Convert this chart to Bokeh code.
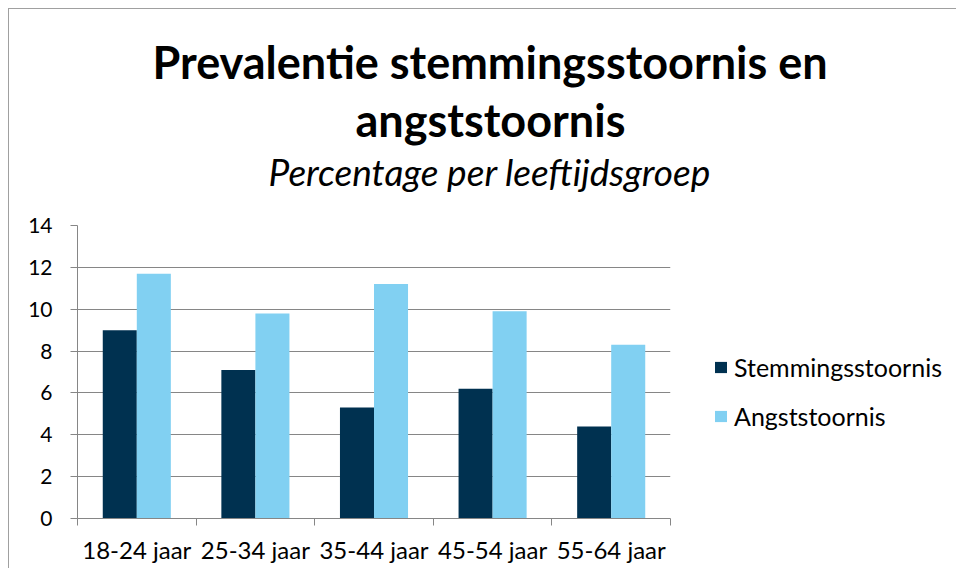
import numpy as np
from bokeh.plotting import figure
from bokeh.models import (ColumnDataSource, Range1d, FixedTicker, Legend,
                          LegendItem, Title)
from bokeh.transform import dodge
from bokeh.embed import file_html
from bokeh.resources import INLINE

# ---- data ----
groups = ["18-24 jaar", "25-34 jaar", "35-44 jaar", "45-54 jaar", "55-64 jaar"]
stemming = [9.0, 7.1, 5.3, 6.2, 4.4]
angst = [11.7, 9.8, 11.2, 9.9, 8.3]
series_names = ["Stemmingsstoornis", "Angststoornis"]
y_ticks = [0, 2, 4, 6, 8, 10, 12, 14]
title_lines = ["Prevalentie stemmingsstoornis en", "angststoornis"]
subtitle = "Percentage per leeftijdsgroep"

# ---- style ----
DARK = "#003150"
LIGHT = "#81d0f2"
GRID = "#868686"
FONT = "Lato"
BAR_W = 0.287

centers = np.arange(len(groups)) + 0.5
src = ColumnDataSource(dict(x=centers, stemming=stemming, angst=angst))

p = figure(frame_width=593, frame_height=293,
           min_border_left=68, min_border_top=216, min_border_bottom=50,
           min_border_right=278,
           x_range=Range1d(0, len(groups)), y_range=Range1d(0, max(y_ticks)),
           output_backend="svg", toolbar_location=None)
p.styles = {"border-left": "1px solid #a0a0a0", "border-top": "1px solid #a0a0a0",
            "margin-left": "8px", "margin-top": "8px"}
p.outline_line_color = None
p.background_fill_color = "white"
p.border_fill_color = "white"

r1 = p.vbar(x=dodge("x", -BAR_W / 2), top="stemming", width=BAR_W, source=src,
            fill_color=DARK, line_color=None)
r2 = p.vbar(x=dodge("x", BAR_W / 2), top="angst", width=BAR_W, source=src,
            fill_color=LIGHT, line_color=None)

# y axis
p.yaxis.ticker = FixedTicker(ticks=y_ticks)
p.yaxis.axis_line_color = GRID
p.yaxis.major_tick_line_color = GRID
p.yaxis.major_tick_out = 7
p.yaxis.major_tick_in = 0
p.yaxis.minor_tick_line_color = None
p.yaxis.major_label_text_font = FONT
p.yaxis.major_label_text_font_size = "21px"
p.yaxis.major_label_text_color = "black"
p.yaxis.major_label_standoff = 18

# x axis: labels at centres, ticks at boundaries
p.xaxis.ticker = FixedTicker(ticks=list(centers),
                             minor_ticks=list(range(len(groups) + 1)))
p.xaxis.major_label_overrides = {float(c): g for c, g in zip(centers, groups)}
p.xaxis.axis_line_color = GRID
p.xaxis.major_tick_line_color = None
p.xaxis.major_tick_out = 0
p.xaxis.major_tick_in = 0
p.xaxis.minor_tick_line_color = GRID
p.xaxis.minor_tick_out = 7
p.xaxis.minor_tick_in = 0
p.xaxis.major_label_text_font = FONT
p.xaxis.major_label_text_font_size = "24px"
p.xaxis.major_label_text_color = "black"
p.xaxis.major_label_standoff = 9

p.xgrid.visible = False
p.ygrid.ticker = FixedTicker(ticks=y_ticks)
p.ygrid.grid_line_color = GRID
p.ygrid.grid_line_width = 1

# titles (first added = closest to the plot); a blank spacer sets the gap
p.add_layout(Title(text=" ", align="left", standoff=18,
                   text_font=FONT, text_font_size="10px"), "above")
p.add_layout(Title(text=subtitle, align="left", offset=191,
                   standoff=0, text_font=FONT, text_font_style="italic",
                   text_font_size="37px", text_color="black"), "above")
p.add_layout(Title(text=title_lines[1], align="left", offset=278,
                   standoff=-1, text_font=FONT, text_font_style="bold",
                   text_font_size="45px", text_color="black"), "above")
p.add_layout(Title(text=title_lines[0], align="left", offset=75,
                   standoff=6, text_font=FONT, text_font_style="bold",
                   text_font_size="45px", text_color="black"), "above")

legend = Legend(items=[LegendItem(label=series_names[0], renderers=[r1]),
                       LegendItem(label=series_names[1], renderers=[r2])],
                location=(43, 87), orientation="vertical", padding=0, margin=0,
                border_line_color=None, background_fill_alpha=0,
                glyph_width=15, glyph_height=14, label_standoff=6, spacing=19,
                label_height=24, label_text_font=FONT,
                label_text_font_size="25px", label_text_color="black")
p.add_layout(legend, "right")

open("out.html", "w").write(file_html(p, INLINE))
